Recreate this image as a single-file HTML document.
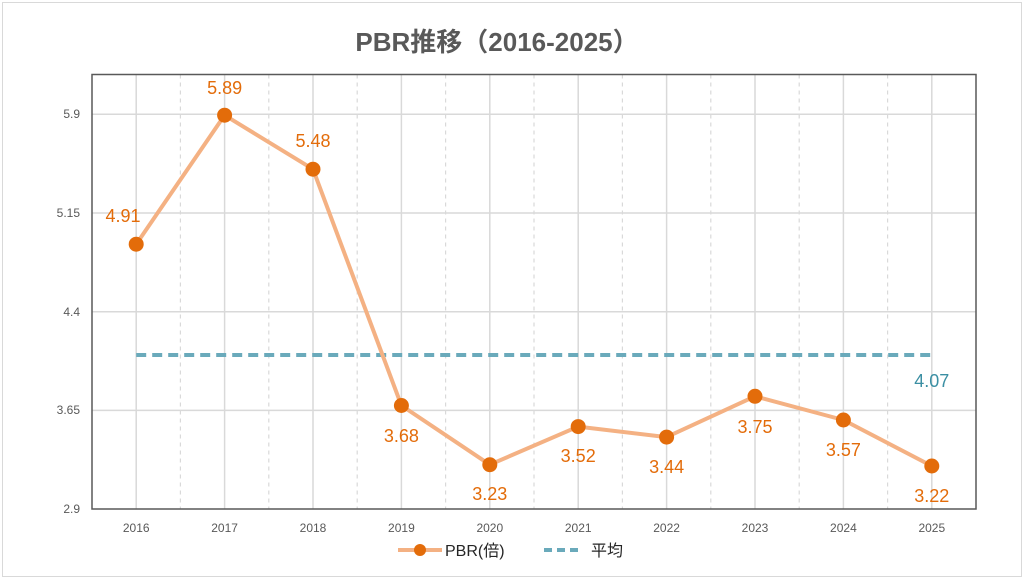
<!DOCTYPE html>
<html><head><meta charset="utf-8"><style>
html,body{margin:0;padding:0;background:#fff;}
svg{display:block;font-family:"Liberation Sans","Noto Sans CJK JP",sans-serif;}
</style></head><body>
<svg width="1024" height="579" viewBox="0 0 1024 579" xmlns="http://www.w3.org/2000/svg">
<rect x="2.5" y="2.5" width="1019" height="574" fill="#fff" stroke="#d9d9d9" stroke-width="1"/>
<text x="497" y="51" text-anchor="middle" font-size="26" font-weight="bold" fill="#595959">PBR推移（2016-2025）</text>
<g stroke="#d9d9d9" stroke-width="1.5">
<line x1="92" y1="114.3" x2="976" y2="114.3"/>
<line x1="92" y1="213" x2="976" y2="213"/>
<line x1="92" y1="311.7" x2="976" y2="311.7"/>
<line x1="92" y1="410.4" x2="976" y2="410.4"/>
</g>
<g stroke="#d9d9d9" stroke-width="1.5" id="vg">
<line x1="136.2" y1="74.5" x2="136.2" y2="509"/><line x1="224.6" y1="74.5" x2="224.6" y2="509"/><line x1="313" y1="74.5" x2="313" y2="509"/><line x1="401.4" y1="74.5" x2="401.4" y2="509"/><line x1="489.8" y1="74.5" x2="489.8" y2="509"/><line x1="578.2" y1="74.5" x2="578.2" y2="509"/><line x1="666.6" y1="74.5" x2="666.6" y2="509"/><line x1="755" y1="74.5" x2="755" y2="509"/><line x1="843.4" y1="74.5" x2="843.4" y2="509"/><line x1="931.8" y1="74.5" x2="931.8" y2="509"/>
</g>
<g stroke="#d9d9d9" stroke-width="1.2" stroke-dasharray="4,4">
<line x1="180.4" y1="74.5" x2="180.4" y2="509"/><line x1="268.8" y1="74.5" x2="268.8" y2="509"/><line x1="357.2" y1="74.5" x2="357.2" y2="509"/><line x1="445.6" y1="74.5" x2="445.6" y2="509"/><line x1="534" y1="74.5" x2="534" y2="509"/><line x1="622.4" y1="74.5" x2="622.4" y2="509"/><line x1="710.8" y1="74.5" x2="710.8" y2="509"/><line x1="799.2" y1="74.5" x2="799.2" y2="509"/><line x1="887.6" y1="74.5" x2="887.6" y2="509"/>
</g>
<rect x="92" y="74.5" width="884" height="434.5" fill="none" stroke="#595959" stroke-width="1.5"/>
<g font-size="12" fill="#595959" text-anchor="end">
<text x="80" y="118">5.9</text><text x="80" y="217">5.15</text><text x="80" y="316">4.4</text><text x="80" y="414">3.65</text><text x="80" y="513">2.9</text>
</g>
<g font-size="12" fill="#595959" text-anchor="middle">
<text x="136.2" y="532">2016</text><text x="224.6" y="532">2017</text><text x="313" y="532">2018</text><text x="401.4" y="532">2019</text><text x="489.8" y="532">2020</text><text x="578.2" y="532">2021</text><text x="666.6" y="532">2022</text><text x="755" y="532">2023</text><text x="843.4" y="532">2024</text><text x="931.8" y="532">2025</text>
</g>
<line x1="136.2" y1="355" x2="931.8" y2="355" stroke="#6aaabb" stroke-width="4" stroke-dasharray="10,6"/>
<polyline fill="none" stroke="#f4b183" stroke-width="4" stroke-linejoin="round" points="136.2,244.2 224.6,115.2 313,169.2 401.4,405.5 489.8,464.7 578.2,426.6 666.6,437.1 755,396.3 843.4,420.0 931.8,466.0"/>
<g fill="#e36c0a">
<circle cx="136.2" cy="244.2" r="7.5"/><circle cx="224.6" cy="115.2" r="7.5"/><circle cx="313" cy="169.2" r="7.5"/><circle cx="401.4" cy="405.5" r="7.5"/><circle cx="489.8" cy="464.7" r="7.5"/><circle cx="578.2" cy="426.6" r="7.5"/><circle cx="666.6" cy="437.1" r="7.5"/><circle cx="755" cy="396.3" r="7.5"/><circle cx="843.4" cy="420.0" r="7.5"/><circle cx="931.8" cy="466.0" r="7.5"/>
</g>
<g font-size="18" fill="#e36c0a" text-anchor="middle">
<text x="123" y="222">4.91</text><text x="224.6" y="94">5.89</text><text x="313" y="147">5.48</text><text x="401.4" y="442">3.68</text><text x="489.8" y="500">3.23</text><text x="578.2" y="462">3.52</text><text x="666.6" y="473">3.44</text><text x="755" y="433">3.75</text><text x="843.4" y="456">3.57</text><text x="931.8" y="502">3.22</text>
</g>
<text x="931.8" y="387" font-size="18" fill="#3b8fa3" text-anchor="middle">4.07</text>
<line x1="398" y1="550" x2="442" y2="550" stroke="#f4b183" stroke-width="4"/>
<circle cx="420" cy="550" r="6" fill="#e36c0a"/>
<text x="445" y="556" font-size="16" fill="#262626">PBR(倍)</text>
<line x1="544" y1="550" x2="582" y2="550" stroke="#6aaabb" stroke-width="4" stroke-dasharray="8,5"/>
<text x="591" y="556" font-size="16" fill="#262626">平均</text>
</svg>
</body></html>
